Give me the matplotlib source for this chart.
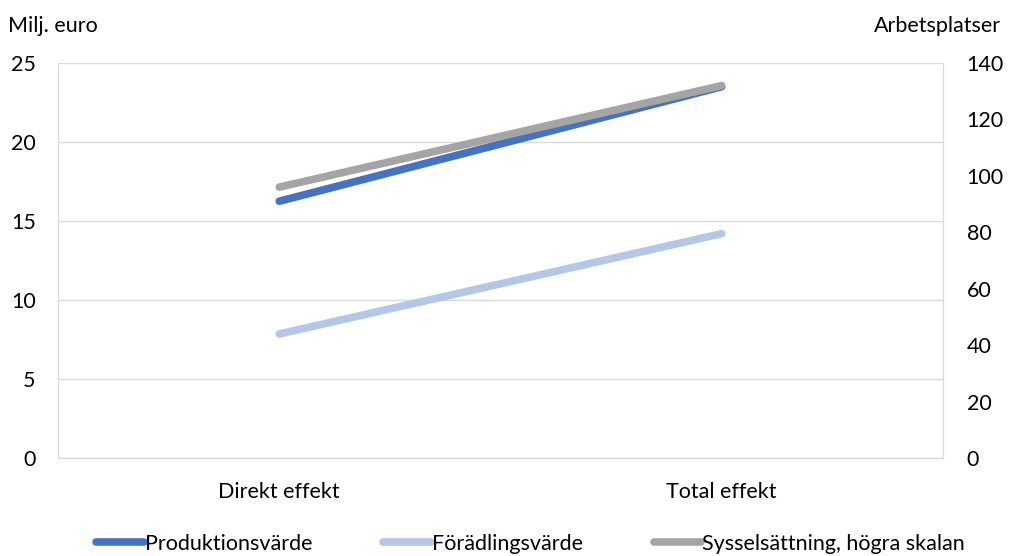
import matplotlib.pyplot as plt

categories = ["Direkt effekt", "Total effekt"]
produktion = [16.25, 23.5]
foradling = [7.85, 14.2]
syssel = [96.0, 132.0]

plt.rcParams["font.family"] = ["Lato", "DejaVu Sans"]
fs = 15.5

fig = plt.figure(figsize=(10.09, 5.56), dpi=100)
ax = fig.add_axes([58 / 1009, 1 - 458 / 556, (943 - 58) / 1009, (458 - 63) / 556])
ax2 = ax.twinx()

x = [0, 1]
grid_c = "#D9D9D9"
lw = 5.5
l1, = ax.plot(x, produktion, color="#4472C4", lw=lw, solid_capstyle="round", zorder=3)
l2, = ax.plot(x, foradling, color="#B4C7E7", lw=lw, solid_capstyle="round", zorder=3)
l3, = ax2.plot(x, syssel, color="#A5A5A5", lw=lw, solid_capstyle="round", zorder=3)

ax.set_xlim(-0.5, 1.5)
ax.set_ylim(0, 25)
ax.set_yticks(range(0, 26, 5))
ax2.set_ylim(0, 140)
ax2.set_yticks(range(0, 141, 20))
ax.set_xticks(x)
ax.set_xticklabels(categories)
ax.yaxis.grid(True, color=grid_c, lw=1)
ax.set_axisbelow(True)

for a in (ax, ax2):
    for s in a.spines.values():
        s.set_color(grid_c)
    a.spines["top"].set_visible(False)
    a.tick_params(length=0, labelsize=fs, colors="#000000")
ax.tick_params(axis="y", pad=16)
ax2.tick_params(axis="y", pad=17)
ax.tick_params(axis="x", pad=17)

fig.text(8 / 1009, 1 - 26 / 556, "Milj. euro", fontsize=fs, va="center", ha="left")
fig.text(1001 / 1009, 1 - 26 / 556, "Arbetsplatser", fontsize=fs, va="center", ha="right")

fig.legend([l1, l2, l3], ["Produktionsvärde", "Förädlingsvärde", "Sysselsättning, högra skalan"],
           loc="center", bbox_to_anchor=(0.526, 1 - 544 / 556), ncol=3, frameon=False,
           fontsize=fs, handlelength=2.2, handletextpad=0.05, columnspacing=3.3,
           borderpad=0, borderaxespad=0)

fig.savefig("out.png", dpi=100)
